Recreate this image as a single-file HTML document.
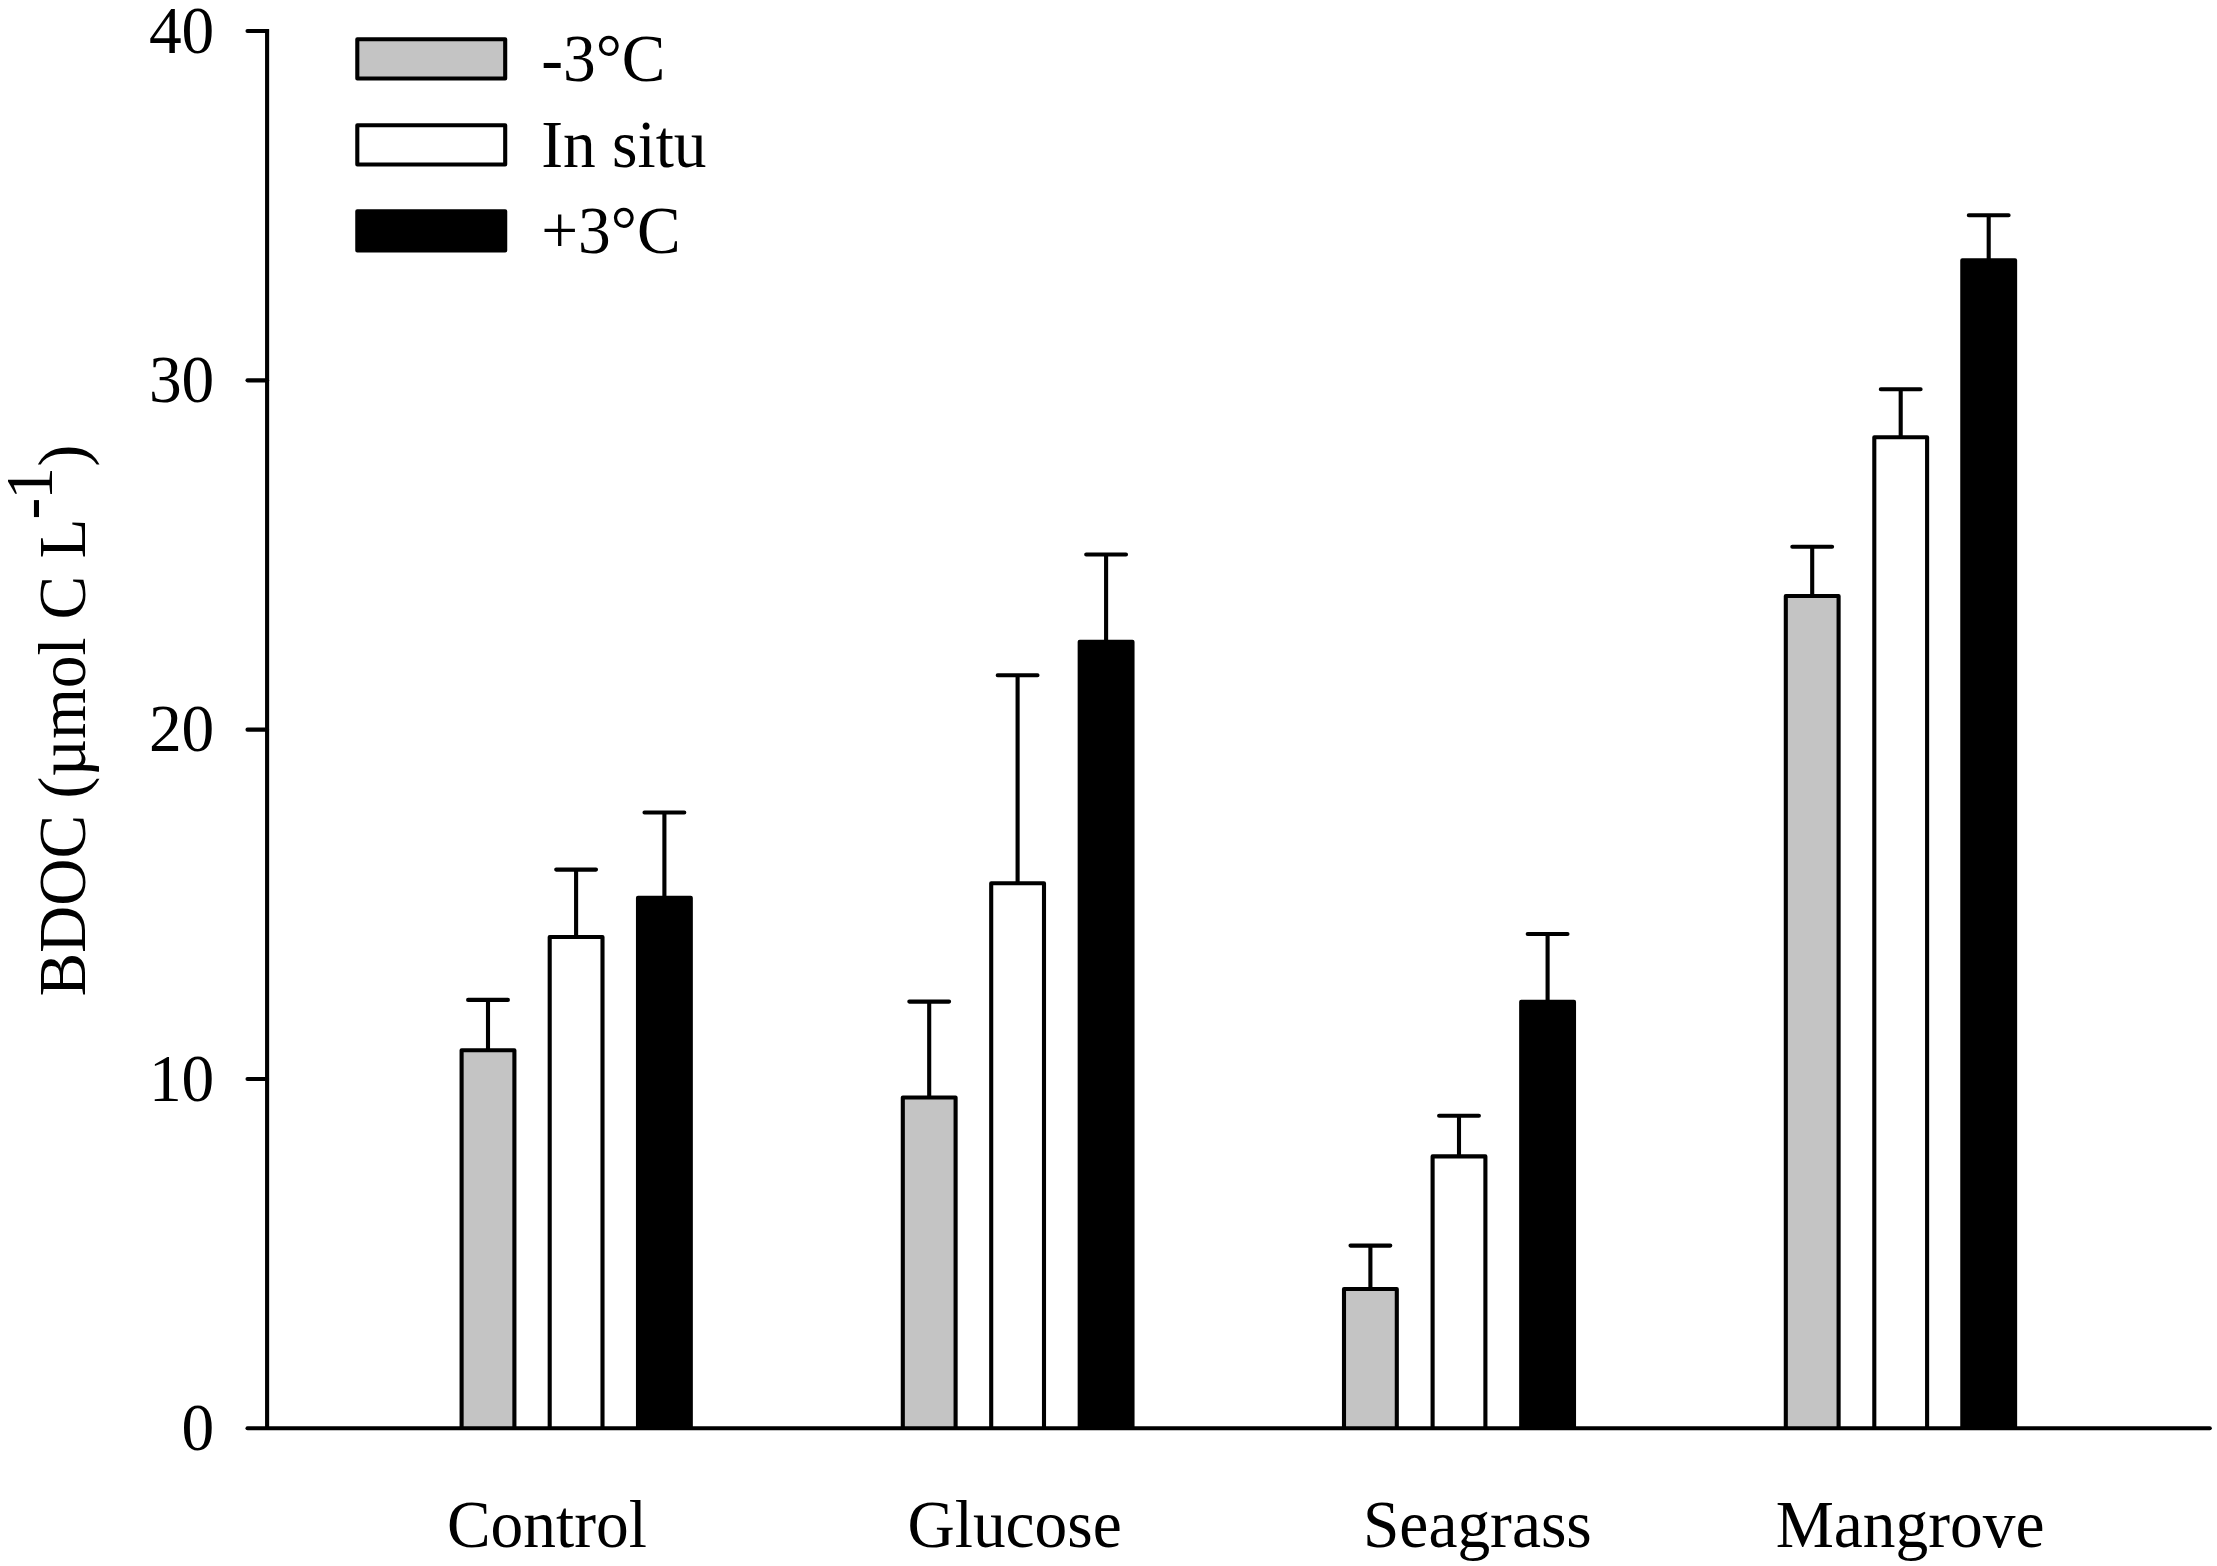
<!DOCTYPE html>
<html lang="en">
<head>
<meta charset="utf-8">
<title>BDOC bar chart</title>
<style>
html,body{margin:0;padding:0;background:#fff;}
body{width:2217px;height:1566px;overflow:hidden;}
svg{display:block;}
text{font-family:"Liberation Serif",serif;font-size:65.4px;fill:#000;}
</style>
</head>
<body>
<svg width="2217" height="1566" viewBox="0 0 2217 1566">
<rect x="0" y="0" width="2217" height="1566" fill="#fff"/>
<g stroke="#000" stroke-width="4.1" fill="none" stroke-linecap="round">
<path d="M488.0 1050.3V999.9M468.1 999.9H507.9"/>
<path d="M576.1 937.0V869.6M556.2 869.6H596.0"/>
<path d="M664.4 897.8V812.5M644.5 812.5H684.3"/>
<path d="M929.2 1097.5V1001.6M909.3 1001.6H949.1"/>
<path d="M1017.6 883.3V675.2M997.7 675.2H1037.5"/>
<path d="M1106.1 641.7V554.5M1086.2 554.5H1126.0"/>
<path d="M1370.4 1289.0V1245.6M1350.5 1245.6H1390.3"/>
<path d="M1459.0 1156.4V1115.8M1439.1 1115.8H1478.9"/>
<path d="M1547.6 1001.8V934.0M1527.7 934.0H1567.5"/>
<path d="M1812.2 596.0V546.7M1792.3 546.7H1832.1"/>
<path d="M1900.7 437.2V389.2M1880.8 389.2H1920.6"/>
<path d="M1988.7 260.3V215.3M1968.8 215.3H2008.6"/>
</g>
<g stroke="#000" stroke-width="4.1" stroke-linejoin="round">
<path d="M461.6 1428.3V1050.3H514.4V1428.3" fill="#c4c4c4"/>
<path d="M549.7 1428.3V937.0H602.5V1428.3" fill="#ffffff"/>
<path d="M638.0 1428.3V897.8H690.8V1428.3" fill="#000000"/>
<path d="M902.8 1428.3V1097.5H955.6V1428.3" fill="#c4c4c4"/>
<path d="M991.2 1428.3V883.3H1044.0V1428.3" fill="#ffffff"/>
<path d="M1079.7 1428.3V641.7H1132.5V1428.3" fill="#000000"/>
<path d="M1344.0 1428.3V1289.0H1396.8V1428.3" fill="#c4c4c4"/>
<path d="M1432.6 1428.3V1156.4H1485.4V1428.3" fill="#ffffff"/>
<path d="M1521.2 1428.3V1001.8H1574.0V1428.3" fill="#000000"/>
<path d="M1785.8 1428.3V596.0H1838.6V1428.3" fill="#c4c4c4"/>
<path d="M1874.3 1428.3V437.2H1927.1V1428.3" fill="#ffffff"/>
<path d="M1962.3 1428.3V260.3H2015.1V1428.3" fill="#000000"/>
</g>
<g stroke="#000" stroke-width="4.1" fill="none">
<path d="M267.1 28.95V1428.3"/>
<path d="M247.5 1428.3H2209.8" stroke-linecap="round"/>
<path d="M247.5 1078.97H267.1" stroke-linecap="round"/>
<path d="M247.5 729.65H267.1" stroke-linecap="round"/>
<path d="M247.5 380.33H267.1" stroke-linecap="round"/>
<path d="M247.5 31.00H267.1" stroke-linecap="round"/>
</g>
<text transform="translate(214.3 1449.8) scale(1 1.034)" text-anchor="end">0</text>
<text transform="translate(214.3 1100.5) scale(1 1.034)" text-anchor="end">10</text>
<text transform="translate(214.3 751.1) scale(1 1.034)" text-anchor="end">20</text>
<text transform="translate(214.3 401.8) scale(1 1.034)" text-anchor="end">30</text>
<text transform="translate(214.3 52.5) scale(1 1.034)" text-anchor="end">40</text>
<text transform="translate(447.0 1546.8) scale(1 1.034)">Control</text>
<text transform="translate(907.5 1546.8) scale(1 1.034)">Glucose</text>
<text transform="translate(1363.0 1546.8) scale(1 1.034)">Seagrass</text>
<text transform="translate(1775.7 1546.8) scale(1 1.034)">Mangrove</text>
<rect x="357.3" y="39.3" width="147.9" height="39.2" fill="#c4c4c4" stroke="#000" stroke-width="4.1" stroke-linejoin="round"/>
<text transform="translate(541.2 81.2) scale(1 1.034)">-3°C</text>
<rect x="357.3" y="125.3" width="147.9" height="39.2" fill="#ffffff" stroke="#000" stroke-width="4.1" stroke-linejoin="round"/>
<text transform="translate(541.2 167.2) scale(1 1.034)">In situ</text>
<rect x="357.3" y="211.3" width="147.9" height="39.2" fill="#000000" stroke="#000" stroke-width="4.1" stroke-linejoin="round"/>
<text transform="translate(541.2 253.2) scale(1 1.034)">+3°C</text>
<text transform="translate(85.0 996.6) rotate(-90) scale(1 1.034)">BDOC (µmol<tspan dx="1.5"> C</tspan><tspan dx="1"> L</tspan><tspan dy="-32.4" dx="-1.0">-</tspan><tspan dx="-1.9">1</tspan><tspan dy="32.4" dx="0.4">)</tspan></text>
</svg>
</body>
</html>
